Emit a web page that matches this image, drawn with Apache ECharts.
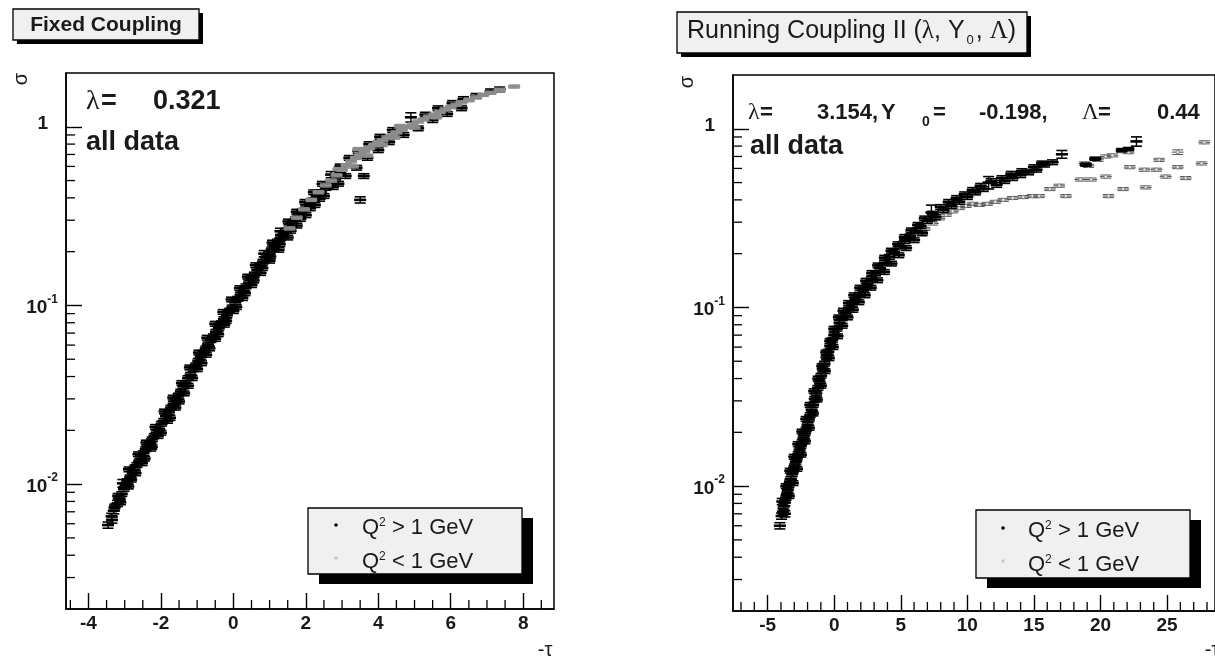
<!DOCTYPE html>
<html><head><meta charset="utf-8">
<script src="https://cdn.jsdelivr.net/npm/echarts@6/dist/echarts.min.js"></script>
<style>html,body{margin:0;padding:0;background:#fff}#c{width:1215px;height:658px}</style>
</head><body><div id="c"></div>
<script>
// ---- data: [ -tau, sigma, relative sigma error ] ----
const fixedHigh = [
[-3.46,0.0059,0.04],[-3.36,0.0066,0.04],[-3.30,0.0071,0.04],[-3.27,0.0075,0.03],[-3.20,0.0078,0.04],[-3.14,0.0083,0.03],[-3.08,0.0088,0.03],[-3.02,0.0094,0.03],[-2.97,0.0099,0.03],[-2.93,0.0104,0.03],[-2.85,0.0109,0.03],[-2.78,0.0116,0.03],[-2.72,0.0124,0.03],[-2.66,0.0128,0.03],[-2.60,0.0134,0.03],[-2.55,0.0143,0.03],[-2.48,0.0149,0.03],[-2.42,0.0157,0.03],[-2.36,0.0162,0.03],[-2.30,0.0170,0.03],[-2.24,0.0178,0.03],[-2.18,0.0186,0.03],[-2.12,0.0194,0.03],[-2.05,0.0203,0.03],[-1.98,0.0218,0.03],[-1.92,0.0226,0.03],[-1.86,0.0240,0.03],[-1.78,0.0252,0.03],[-1.72,0.0268,0.03],[-1.65,0.0281,0.03],[-1.58,0.0296,0.03],[-1.52,0.0313,0.03],[-1.45,0.0330,0.03],[-1.38,0.0352,0.03],[-1.32,0.0368,0.03],[-1.25,0.0392,0.03],[-1.18,0.0410,0.03],[-1.10,0.0440,0.03],[-1.04,0.0462,0.03],[-0.97,0.0490,0.03],[-0.90,0.0515,0.03],[-0.83,0.0545,0.03],[-0.76,0.0575,0.03],[-0.70,0.0605,0.03],[-0.62,0.0640,0.03],[-0.55,0.0672,0.03],[-0.48,0.0712,0.03],[-0.40,0.0750,0.03],[-0.33,0.0795,0.03],[-0.26,0.0838,0.03],[-0.18,0.0880,0.03],[-0.10,0.0935,0.03],[-0.03,0.0975,0.03],[0.05,0.1040,0.03],[0.12,0.1090,0.03],[0.20,0.1150,0.03],[0.28,0.1210,0.03],[0.35,0.1280,0.03],[0.43,0.1340,0.03],[0.50,0.1420,0.03],[0.58,0.1490,0.03],[0.66,0.1580,0.03],[0.74,0.1670,0.03],[0.82,0.1760,0.03],[0.90,0.1860,0.03],[0.98,0.1950,0.03],[1.06,0.2060,0.03],[1.14,0.2160,0.03],[1.22,0.2280,0.03],[1.30,0.2380,0.03],[1.38,0.2500,0.03],[1.46,0.2620,0.03],[1.55,0.2760,0.03],[1.63,0.2900,0.03],[1.72,0.3050,0.03],[1.80,0.3180,0.03],[1.90,0.3350,0.03],[2.00,0.3500,0.03],[2.10,0.3700,0.03],[2.20,0.3880,0.03],[2.30,0.4080,0.03],[2.42,0.4300,0.03],[2.55,0.4550,0.03],[2.68,0.4850,0.03],[2.82,0.5200,0.03],[2.95,0.5550,0.03],
[-3.05,0.0101,0.05],[-2.88,0.0121,0.03],[-2.62,0.0147,0.03],[-2.40,0.0171,0.03],[-2.15,0.0209,0.03],[-1.90,0.0255,0.03],[-1.66,0.0305,0.03],[-1.42,0.0368,0.03],[-1.20,0.0450,0.03],[-0.95,0.0545,0.03],[-0.72,0.0660,0.03],[-0.50,0.0790,0.03],[-0.28,0.0920,0.03],[-0.05,0.1080,0.03],[0.18,0.1250,0.03],[0.40,0.1450,0.03],[0.62,0.1680,0.03],[0.85,0.1950,0.04],[1.08,0.2250,0.03],[1.30,0.2600,0.04],[1.52,0.2950,0.03],[1.75,0.3350,0.03],[1.98,0.3800,0.03],[2.22,0.4300,0.03],[2.46,0.4800,0.03],[2.70,0.5400,0.04],[2.95,0.6000,0.03],[3.20,0.6700,0.03],[3.45,0.7300,0.03],[3.75,0.8000,0.03],[4.05,0.8800,0.03],[4.40,0.9600,0.03],[4.90,1.1300,0.06],[5.30,1.1700,0.03],[5.65,1.2700,0.03],[6.05,1.3600,0.03],[6.35,1.4300,0.03],[6.70,1.4900,0.03],[7.10,1.5800,0.03],[7.35,1.6200,0.03],
[-3.35,0.0063,0.04],[-3.12,0.0079,0.03],[-2.90,0.0097,0.03],[-2.70,0.0115,0.03],[-2.45,0.0139,0.03],[-2.25,0.0162,0.03],[-2.00,0.0194,0.03],[-1.75,0.0235,0.03],[-1.50,0.0290,0.03],[-1.25,0.0355,0.03],[-1.00,0.0440,0.03],[-0.75,0.0530,0.03],[-0.50,0.0650,0.03],[-0.25,0.0780,0.03],[0.00,0.0930,0.03],[0.25,0.1100,0.03],[0.50,0.1300,0.03],[0.75,0.1520,0.03],[1.00,0.1780,0.03],[1.25,0.2050,0.03],[1.50,0.2400,0.03],[1.75,0.2800,0.03],[2.00,0.3200,0.03],[2.25,0.3650,0.03],[2.50,0.4100,0.03],[2.75,0.4600,0.03],[2.90,0.4800,0.03],[3.10,0.5300,0.03],[3.40,0.5900,0.03],[3.60,0.5300,0.03],[3.50,0.3900,0.04],[3.70,0.6700,0.03],[4.00,0.7400,0.03],[4.30,0.8200,0.03],[4.70,0.9000,0.03],[5.10,0.9800,0.03],[5.50,1.0900,0.03],[5.90,1.1800,0.03],[6.30,1.2700,0.03],
[-3.18,0.0086,0.03],[-2.82,0.0106,0.03],[-2.52,0.0131,0.03],[-2.28,0.0158,0.03],[-2.08,0.0186,0.03],[-1.82,0.0226,0.03],[-1.60,0.0268,0.03],[-1.36,0.0322,0.03],[-1.14,0.0392,0.03],[-0.88,0.0475,0.03],[-0.66,0.0575,0.03],[-0.42,0.0690,0.03],[-0.20,0.0820,0.03],[0.08,0.0980,0.03],[0.32,0.1170,0.03],[0.56,0.1380,0.03],[0.80,0.1620,0.03],[1.02,0.1880,0.03],[1.28,0.2200,0.03],[1.58,0.2620,0.03],[1.85,0.3050,0.03],[2.12,0.3500,0.03],[2.38,0.3950,0.03]
];
const fixedLow = [
[1.55,0.2700,0.02],[1.75,0.3100,0.02],[1.95,0.3450,0.02],[2.15,0.3900,0.02],[2.35,0.4300,0.02],[2.55,0.4700,0.02],[2.70,0.5000,0.02],[2.85,0.5350,0.02],[3.00,0.5750,0.02],[3.12,0.6100,0.02],[3.25,0.6400,0.02],[3.38,0.6700,0.02],[3.50,0.7000,0.02],[3.62,0.7300,0.02],[3.75,0.7600,0.02],[3.88,0.7900,0.02],[4.00,0.8200,0.02],[4.12,0.8400,0.02],[4.25,0.8700,0.02],[4.38,0.8950,0.02],[4.50,0.9300,0.02],[4.65,0.9600,0.02],[4.80,1.0000,0.02],[4.95,1.0300,0.02],[5.10,1.0700,0.02],[5.25,1.1000,0.02],[5.40,1.1400,0.02],[5.55,1.1700,0.02],[5.70,1.2100,0.02],[5.85,1.2500,0.02],[6.00,1.2900,0.02],[6.15,1.3300,0.02],[6.30,1.3700,0.02],[6.50,1.4100,0.02],[6.70,1.4600,0.02],[6.90,1.5100,0.02],[7.10,1.5500,0.02],[7.35,1.6100,0.02],[7.75,1.6800,0.02],[3.30,0.6000,0.02],[3.70,0.6900,0.02],[4.10,0.7900,0.02],[4.45,0.8700,0.02],[2.90,0.5800,0.02],[3.45,0.7500,0.02],[4.60,1.0100,0.02],[5.00,0.9900,0.02],[5.60,1.1300,0.02]
];
const runHigh = [
[-4.08,0.0060,0.04],[-3.95,0.0068,0.04],[-3.85,0.0072,0.04],[-3.78,0.0077,0.04],[-3.70,0.0081,0.04],[-3.62,0.0086,0.03],[-3.55,0.0090,0.03],[-3.48,0.0095,0.03],[-3.40,0.0101,0.03],[-3.32,0.0106,0.03],[-3.25,0.0110,0.03],[-3.15,0.0117,0.03],[-3.06,0.0123,0.03],[-2.98,0.0129,0.03],[-2.88,0.0137,0.03],[-2.80,0.0143,0.03],[-2.70,0.0151,0.03],[-2.60,0.0160,0.03],[-2.50,0.0168,0.03],[-2.40,0.0177,0.03],[-2.30,0.0187,0.03],[-2.20,0.0197,0.03],[-2.10,0.0208,0.03],[-2.00,0.0221,0.03],[-1.90,0.0236,0.03],[-1.80,0.0250,0.03],[-1.70,0.0268,0.03],[-1.58,0.0285,0.03],[-1.46,0.0308,0.03],[-1.34,0.0330,0.03],[-1.22,0.0355,0.03],[-1.10,0.0385,0.03],[-0.98,0.0415,0.03],[-0.85,0.0450,0.03],[-0.72,0.0485,0.03],[-0.58,0.0525,0.03],[-0.44,0.0565,0.03],[-0.30,0.0610,0.03],[-0.15,0.0655,0.03],[0.00,0.0700,0.03],[0.20,0.0760,0.03],[0.40,0.0820,0.03],[0.60,0.0870,0.03],[0.85,0.0930,0.03],[1.10,0.0990,0.03],[1.35,0.1050,0.03],[1.60,0.1110,0.03],[1.90,0.1180,0.03],[2.20,0.1260,0.03],[2.50,0.1350,0.03],[2.80,0.1450,0.03],[3.10,0.1550,0.03],[3.45,0.1660,0.03],[3.80,0.1780,0.03],[4.15,0.1920,0.03],[4.50,0.2050,0.03],[4.90,0.2200,0.03],[5.30,0.2350,0.03],[5.70,0.2500,0.03],[6.10,0.2680,0.03],[6.50,0.2850,0.03],[7.00,0.3050,0.03],[7.30,0.3400,0.10],[7.60,0.3200,0.03],[8.20,0.3500,0.03],[8.80,0.3700,0.03],[9.40,0.3900,0.03],[10.00,0.4150,0.03],[10.60,0.4400,0.03],[11.20,0.4600,0.03],[11.60,0.5000,0.08],[12.20,0.4850,0.03],[12.80,0.5100,0.03],[13.40,0.5300,0.03],[14.00,0.5500,0.03],[14.60,0.5700,0.03],[15.20,0.5900,0.03],[15.80,0.6300,0.03],[16.40,0.6500,0.03],[17.10,0.7200,0.05],[18.90,0.6300,0.02],[19.60,0.6800,0.02],[21.60,0.7600,0.02],[22.10,0.7700,0.02],[22.70,0.8500,0.06],
[-3.90,0.0082,0.04],[-3.60,0.0100,0.03],[-3.30,0.0122,0.03],[-3.00,0.0146,0.03],[-2.70,0.0172,0.03],[-2.40,0.0202,0.03],[-2.10,0.0238,0.03],[-1.80,0.0285,0.03],[-1.50,0.0340,0.03],[-1.20,0.0400,0.03],[-0.90,0.0470,0.03],[-0.60,0.0560,0.03],[-0.30,0.0650,0.03],[0.00,0.0760,0.03],[0.35,0.0880,0.03],[0.70,0.0960,0.03],[1.10,0.1060,0.03],[1.50,0.1170,0.03],[1.95,0.1290,0.03],[2.40,0.1410,0.03],[2.85,0.1560,0.03],[3.30,0.1720,0.03],[3.80,0.1900,0.03],[4.30,0.2080,0.03],[4.80,0.2260,0.03],[5.30,0.2480,0.03],[5.80,0.2700,0.03],[6.30,0.2900,0.03],[6.80,0.3150,0.03],[7.40,0.3350,0.03],[8.00,0.3650,0.03],[8.60,0.3900,0.03],[9.20,0.4100,0.03],[9.80,0.4300,0.03],[10.40,0.4550,0.03],[11.00,0.4800,0.03],[11.80,0.5100,0.03],[12.60,0.5300,0.03],[13.30,0.5600,0.03],[14.10,0.5800,0.03],[15.00,0.6100,0.03],[15.60,0.6400,0.03],
[-3.70,0.0070,0.04],[-3.40,0.0088,0.03],[-3.10,0.0104,0.03],[-2.80,0.0125,0.03],[-2.50,0.0150,0.03],[-2.20,0.0178,0.03],[-1.90,0.0212,0.03],[-1.60,0.0255,0.03],[-1.30,0.0305,0.03],[-1.00,0.0365,0.03],[-0.70,0.0440,0.03],[-0.40,0.0520,0.03],[-0.10,0.0600,0.03],[0.25,0.0690,0.03],[0.60,0.0790,0.03],[1.00,0.0880,0.03],[1.40,0.0970,0.03],[1.85,0.1070,0.03],[2.30,0.1170,0.03],[2.75,0.1290,0.03],[3.25,0.1420,0.03],[3.75,0.1580,0.03],[4.30,0.1760,0.03],[4.85,0.1960,0.03],[5.40,0.2150,0.03],[6.00,0.2380,0.03],[6.60,0.2600,0.03]
];
const runLow = [
[6.80,0.2750,0.02],[7.40,0.2950,0.02],[7.90,0.3150,0.02],[8.40,0.3300,0.02],[8.90,0.3450,0.02],[9.40,0.3600,0.02],[9.90,0.3700,0.02],[10.40,0.3800,0.02],[10.90,0.3750,0.02],[11.50,0.3800,0.02],[12.10,0.3900,0.02],[12.70,0.4000,0.02],[13.40,0.4100,0.02],[14.20,0.4150,0.02],[14.90,0.4200,0.02],[15.40,0.4200,0.02],[16.20,0.4600,0.02],[16.90,0.4800,0.02],[17.40,0.4200,0.02],[18.50,0.5200,0.02],[19.30,0.5200,0.02],[20.40,0.5400,0.02],[20.60,0.4200,0.02],[21.70,0.4600,0.02],[22.20,0.6100,0.02],[23.40,0.4700,0.02],[23.30,0.5900,0.02],[24.20,0.5900,0.02],[24.40,0.6700,0.02],[24.90,0.5400,0.02],[25.80,0.6100,0.02],[26.40,0.5300,0.02],[25.80,0.7400,0.03],[27.60,0.6400,0.02],[27.80,0.8400,0.02],[18.80,0.6400,0.02],[19.10,0.6200,0.02],[19.80,0.6700,0.02],[20.40,0.7000,0.02],[20.90,0.7100,0.02],[21.60,0.7500,0.02],[22.10,0.7400,0.02]
];
// ---- axes ----
const fixedXRange = [-4.62, 8.85];
const runXRange = [-7.6, 28.6];
const sigmaRange = [0.002, 2];
const fixedXMinor = [-4.5,-3.5,-3,-2.5,-1.5,-1,-0.5,0.5,1,1.5,2.5,3,3.5,4.5,5,5.5,6.5,7,7.5,8.5];
const runXMinor = [-7,-6,-4,-3,-2,-1,1,2,3,4,6,7,8,9,11,12,13,14,16,17,18,19,21,22,23,24,26,27,28];
const sigmaMinor = [0.003,0.004,0.005,0.006,0.007,0.008,0.009,0.02,0.03,0.04,0.05,0.06,0.07,0.08,0.09,0.2,0.3,0.4,0.5,0.6,0.7,0.8,0.9];
const legendLabels = ['{t|Q}{s|2}{t| > 1 GeV}', '{t|Q}{s|2}{t| < 1 GeV}'];

const FONT = "'Liberation Sans', Arial, Helvetica, sans-serif";
const SERIF = "'Liberation Serif', 'DejaVu Serif', serif";
const chart = echarts.init(document.getElementById('c'));

// s = {line, lw (central dash width), cap, mark, markStroke}
function errRender(s) {
  return function (params, api) {
    const x = api.value(0), y = api.value(1), e = api.value(2);
    const p = api.coord([x, y]);
    const t = api.coord([x, y * (1 + e)]);
    const b = api.coord([x, y * (1 - e)]);
    const hw = 6, cw = 5.5;
    const L = (x1, y1, x2, y2, w, c) => ({ type: 'line', shape: { x1, y1, x2, y2 }, style: { stroke: c || s.line, lineWidth: w } });
    const ch = [
      L(p[0] - hw, p[1], p[0] + hw, p[1], s.lw),
      L(p[0], t[1], p[0], b[1], 1.4),
      L(p[0] - cw, t[1], p[0] + cw, t[1], s.cap),
      L(p[0] - cw, b[1], p[0] + cw, b[1], s.cap)
    ];
    if (s.mark) ch.push({ type: 'circle', shape: { cx: p[0], cy: p[1], r: 1.8 }, style: { fill: s.mark, stroke: s.markStroke || null, lineWidth: 0.8 } });
    return { type: 'group', children: ch };
  };
}
function minorTicks(xMinor, xr) {
  return function (params, api) {
    const ch = [];
    const st = { stroke: '#000', lineWidth: 1.3 };
    xMinor.forEach(v => {
      const p = api.coord([v, sigmaRange[0]]);
      ch.push({ type: 'line', shape: { x1: p[0], y1: p[1], x2: p[0], y2: p[1] - 9 }, style: st });
    });
    sigmaMinor.forEach(v => {
      const p = api.coord([xr[0], v]);
      ch.push({ type: 'line', shape: { x1: p[0], y1: p[1], x2: p[0] + 9, y2: p[1] }, style: st });
    });
    return { type: 'group', children: ch };
  };
}
const lab = { fontSize: 19, fontWeight: 'bold', fontFamily: FONT, color: '#1a1a1a' };
function xAxisCfg(gi, r) {
  return { gridIndex: gi, type: 'value', min: r[0], max: r[1], splitNumber: 7,
    axisLine: { show: true, onZero: false, lineStyle: { color: '#000', width: 1.5 } },
    axisTick: { show: true, inside: true, length: 16, lineStyle: { color: '#000', width: 1.4 } },
    splitLine: { show: false },
    axisLabel: Object.assign({ showMinLabel: false, showMaxLabel: false, margin: 5 }, lab) };
}
function yAxisCfg(gi) {
  return { gridIndex: gi, type: 'log', logBase: 10, min: sigmaRange[0], max: sigmaRange[1],
    axisLine: { show: true, onZero: false, lineStyle: { color: '#000', width: 1.5 } },
    axisTick: { show: true, inside: true, length: 16, lineStyle: { color: '#000', width: 1.4 } },
    splitLine: { show: false }, minorTick: { show: false },
    axisLabel: { showMinLabel: false, showMaxLabel: false, margin: 8,
      formatter: function (v) {
        const lg = Math.log10(v), e = Math.round(lg);
        if (Math.abs(lg - e) > 1e-6) return '';
        return e === 0 ? '{one|1}' : '{b|10}{s|' + e + '}';
      },
      rich: {
        b: Object.assign({ lineHeight: 24, verticalAlign: 'bottom' }, lab),
        s: { fontSize: 12, fontWeight: 'bold', fontFamily: FONT, color: '#1a1a1a', verticalAlign: 'top', lineHeight: 12 },
        one: Object.assign({ padding: [0, 10, 6, 0] }, lab)
      } } };
}
function txt(x, y, text, font, extra) {
  return { type: 'text', x: x, y: y, z: 10, style: Object.assign({ text: text, font: font, fill: '#1a1a1a', verticalAlign: 'middle' }, extra || {}) };
}
function legend(bx, by, w, h, mx, tx, ys) {
  const richL = { t: { fontSize: 22, fontFamily: FONT, fill: '#1a1a1a' }, s: { fontSize: 12, fontFamily: FONT, fill: '#1a1a1a', verticalAlign: 'top', lineHeight: 12 } };
  return [
    { type: 'rect', z: 8, shape: { x: bx + 11, y: by + 10, width: w, height: h }, style: { fill: '#000' } },
    { type: 'rect', z: 9, shape: { x: bx, y: by, width: w, height: h }, style: { fill: '#f0f0f0', stroke: '#000', lineWidth: 1.3 } },
    { type: 'circle', z: 10, shape: { cx: mx, cy: ys[0] - 3, r: 1.8 }, style: { fill: '#000' } },
    { type: 'circle', z: 10, shape: { cx: mx, cy: ys[1] - 4, r: 1.8 }, style: { fill: '#c8c8c8' } },
    { type: 'text', z: 10, x: tx, y: ys[0], style: { text: legendLabels[0], rich: richL, verticalAlign: 'middle', font: '22px ' + FONT } },
    { type: 'text', z: 10, x: tx, y: ys[1], style: { text: legendLabels[1], rich: richL, verticalAlign: 'middle', font: '22px ' + FONT } }
  ];
}

const graphics = [
  { type: 'rect', z: 8, shape: { x: 17, y: 13, width: 186, height: 31 }, style: { fill: '#000' } },
  { type: 'rect', z: 9, shape: { x: 13, y: 9, width: 186, height: 31 }, style: { fill: '#f0f0f0', stroke: '#000', lineWidth: 1.3 } },
  txt(106, 25, 'Fixed Coupling', 'bold 21px ' + FONT, { align: 'center' }),
  { type: 'rect', z: 8, shape: { x: 681, y: 16, width: 350, height: 41 }, style: { fill: '#000' } },
  { type: 'rect', z: 9, shape: { x: 677, y: 12, width: 350, height: 41 }, style: { fill: '#f0f0f0', stroke: '#000', lineWidth: 1.3 } },
  { type: 'text', z: 10, x: 687, y: 31, style: { text: '{t|Running Coupling II (}{g|λ}{t|, Y}{u|0}{t|, }{g|Λ}{t|)}', verticalAlign: 'middle', font: '25px ' + FONT,
    rich: { t: { fontSize: 25, fontFamily: FONT, fill: '#1a1a1a', lineHeight: 32 }, g: { fontSize: 25, fontFamily: SERIF, fill: '#1a1a1a', lineHeight: 32 }, u: { fontSize: 13, fontFamily: FONT, fill: '#1a1a1a', verticalAlign: 'bottom', lineHeight: 13, padding: [0, 2, 0, 2] } } } },
  { type: 'text', x: 21, y: 79, z: 10, rotation: Math.PI / 2, style: { text: 'σ', font: '20px ' + FONT, fill: '#1a1a1a', align: 'center', verticalAlign: 'middle' } },
  { type: 'text', x: 687, y: 82, z: 10, rotation: Math.PI / 2, style: { text: 'σ', font: '20px ' + FONT, fill: '#1a1a1a', align: 'center', verticalAlign: 'middle' } },
  txt(545, 650, '-τ', '20px ' + FONT, { align: 'center' }),
  txt(1212, 650, '-τ', '20px ' + FONT, { align: 'center' }),
  txt(86, 102, 'λ', '28px ' + SERIF),
  txt(101, 102, '=', 'bold 27px ' + FONT),
  txt(153, 102, '0.321', 'bold 27px ' + FONT),
  txt(86, 143, 'all data', 'bold 27px ' + FONT),
  txt(748, 113, 'λ', '24px ' + SERIF),
  txt(760, 113, '=', 'bold 22px ' + FONT),
  txt(817, 113, '3.154,', 'bold 22px ' + FONT),
  txt(881, 113, 'Y', 'bold 22px ' + FONT),
  txt(922, 122, '0', 'bold 14px ' + FONT),
  txt(933, 113, '=', 'bold 22px ' + FONT),
  txt(979, 113, '-0.198,', 'bold 22px ' + FONT),
  txt(1082, 113, 'Λ', '23px ' + SERIF),
  txt(1098, 113, '=', 'bold 22px ' + FONT),
  txt(1157, 113, '0.44', 'bold 22px ' + FONT),
  txt(750, 147, 'all data', 'bold 27px ' + FONT)
].concat(legend(308, 508, 214, 66, 336, 362, [528, 562]))
 .concat(legend(976, 510, 214, 68, 1003, 1028, [531, 565]));

const blackStyle = { line: '#000', lw: 2.6, cap: 1.6, mark: null };
const grayLeft = { line: '#8c8c8c', lw: 2.6, cap: 1.4, mark: null };
const grayRight = { line: '#555', lw: 1.0, cap: 1.0, mark: '#e0e0e0', markStroke: '#777' };

chart.setOption({
  animation: false,
  backgroundColor: '#fff',
  grid: [
    { left: 66, top: 73, width: 488, height: 536, show: true, borderColor: '#000', borderWidth: 1.5, backgroundColor: 'transparent', containLabel: false },
    { left: 733, top: 75, width: 488, height: 536, show: true, borderColor: '#000', borderWidth: 1.5, backgroundColor: 'transparent', containLabel: false }
  ],
  xAxis: [xAxisCfg(0, fixedXRange), xAxisCfg(1, runXRange)],
  yAxis: [yAxisCfg(0), yAxisCfg(1)],
  series: [
    { type: 'custom', xAxisIndex: 0, yAxisIndex: 0, data: [[0, 1]], renderItem: minorTicks(fixedXMinor, fixedXRange), silent: true, z: 5 },
    { type: 'custom', xAxisIndex: 1, yAxisIndex: 1, data: [[0, 1]], renderItem: minorTicks(runXMinor, runXRange), silent: true, z: 5 },
    { type: 'custom', name: 'Q2 > 1 GeV', xAxisIndex: 0, yAxisIndex: 0, data: fixedHigh, renderItem: errRender(blackStyle), clip: true, z: 2 },
    { type: 'custom', name: 'Q2 < 1 GeV', xAxisIndex: 0, yAxisIndex: 0, data: fixedLow, renderItem: errRender(grayLeft), clip: true, z: 3 },
    { type: 'custom', name: 'Q2 < 1 GeV', xAxisIndex: 1, yAxisIndex: 1, data: runLow, renderItem: errRender(grayRight), clip: true, z: 2 },
    { type: 'custom', name: 'Q2 > 1 GeV', xAxisIndex: 1, yAxisIndex: 1, data: runHigh, renderItem: errRender(blackStyle), clip: true, z: 3 }
  ],
  graphic: graphics
});
</script></body></html>
